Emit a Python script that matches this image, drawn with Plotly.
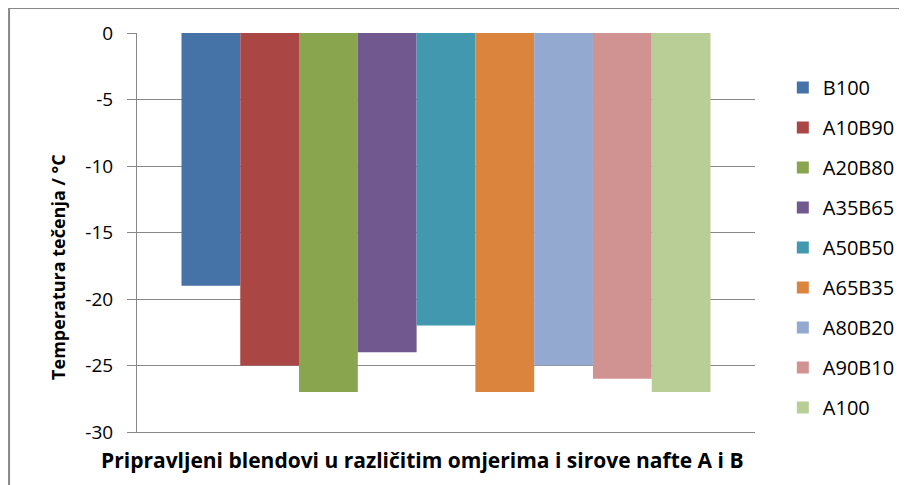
import plotly.graph_objects as go

series = ["B100", "A10B90", "A20B80", "A35B65", "A50B50", "A65B35", "A80B20", "A90B10", "A100"]
values = [-19, -25, -27, -24, -22, -27, -25, -26, -27]
colors = ["#4572A7", "#AA4643", "#89A54E", "#71588F", "#4198AF",
          "#DB843D", "#93A9CF", "#D19392", "#B9CD96"]
category = ["blend"]
y_ticks = [0, -5, -10, -15, -20, -25, -30]
y_tick_labels = ["0", "-5", "-10", "-15", "-20", "-25", "-30"]
x_title = "Pripravljeni blendovi u različitim omjerima i sirove nafte A i B"
y_title = "Temperatura tečenja / °C"

FONT = "Open Sans"

fig = go.Figure()
for name, val, col in zip(series, values, colors):
    fig.add_trace(go.Bar(x=category, y=[val], name=name, marker=dict(color=col, line=dict(width=0)),
                         legendgroup=name))

fig.update_layout(
    width=899, height=477,
    margin=dict(l=129, r=152, t=25, b=53, autoexpand=False),
    paper_bgcolor="white", plot_bgcolor="white",
    barmode="group", bargap=0.144, bargroupgap=0,
    font=dict(family=FONT, size=19, color="#000000"),
    showlegend=True,
    legend=dict(x=1.045, xanchor="left", y=0.912, yanchor="top",
                font=dict(family=FONT, size=20, color="#000000"),
                traceorder="grouped", tracegroupgap=11, itemwidth=30,
                bgcolor="rgba(0,0,0,0)"),
    xaxis=dict(showticklabels=False, ticks="", showgrid=False, zeroline=False,
               showline=True, linecolor="#888888", linewidth=1),
    yaxis=dict(range=[-30, 0], tickvals=y_ticks, ticktext=y_tick_labels, ticks="outside", ticklen=9,
               tickcolor="#888888", showline=True, linecolor="#888888", linewidth=1,
               showgrid=True, gridcolor="#888888", gridwidth=1, zeroline=False,
               ticklabelstandoff=10,
               tickfont=dict(family=FONT, size=19)),
    annotations=[
        dict(text="<b>" + x_title + "</b>", xref="paper", yref="paper",
             x=0.462, y=-0.07, xanchor="center", yanchor="middle", showarrow=False,
             font=dict(family=FONT, size=21)),
        dict(text="<b>" + y_title + "</b>", xref="paper", yref="paper",
             x=-0.128, y=0.4135, xanchor="center", yanchor="middle", showarrow=False,
             textangle=-90, font=dict(family=FONT, size=18)),
    ],
    shapes=[dict(type="rect", xref="paper", yref="paper", x0=-0.207, x1=1.4, y0=-0.3, y1=1.0627,
                 line=dict(color="#888888", width=2), fillcolor="rgba(0,0,0,0)", layer="below")],
)

fig.write_html("out.html")
